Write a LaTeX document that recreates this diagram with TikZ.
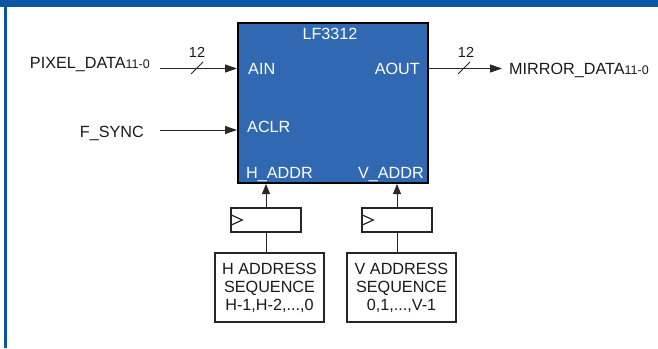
\documentclass[tikz,border=0pt]{standalone}
\usepackage{fontspec}
\setmainfont{Liberation Sans}
\usetikzlibrary{arrows.meta}
\definecolor{barblue}{RGB}{10,86,164}
\definecolor{blkblue}{RGB}{48,104,178}
\definecolor{wirec}{RGB}{40,40,40}
\begin{document}
\begin{tikzpicture}[x=1pt,y=-1pt,
  font=\fontsize{16.2}{18}\selectfont,
  txt/.style={inner sep=0pt, text=black!90},
  intxt/.style={inner sep=0pt, text=white},
  wire/.style={draw=wirec, line width=0.9pt},
  arr/.style={wire, -{Triangle[length=12pt,width=8pt]}},
  varr/.style={wire, -{Triangle[length=10pt,width=8pt]}},
  regbox/.style={draw=black!85, line width=1.4pt, minimum width=70pt, minimum height=24pt, inner sep=0pt},
  seqbox/.style={draw=black!85, line width=1.4pt, minimum width=109pt, minimum height=69pt, inner sep=0pt, align=center, text=black!90},
  bus/.style={draw=wirec, line width=0.8pt},
  small/.style={font=\fontsize{14.5}{16}\selectfont}
]
\useasboundingbox (0,0) rectangle (658,348);
\fill[barblue] (0,0) rectangle (658,7);
\fill[barblue] (3.5,0) rectangle (6.5,348);

% main block
\node[draw=black, line width=2pt, fill=blkblue, minimum width=190pt, minimum height=160pt, anchor=north west, inner sep=0pt] (blk) at (237,22) {};
\node[intxt, anchor=base] (lf) at (330,39) {LF3312};
\node[intxt, anchor=base west] (ain) at (248,74) {AIN};
\node[intxt, anchor=base west] (aclr) at (247,132) {ACLR};
\node[intxt, anchor=base west] (haddr) at (246,178) {H\_ADDR};
\node[intxt, anchor=base east] (aout) at (420,74) {AOUT};
\node[intxt, anchor=base east] (vaddr) at (424,178) {V\_ADDR};

% inputs
\node[txt, anchor=base east] (pix) at (150,68) {PIXEL\_DATA{\fontsize{12.5}{14}\selectfont 11-0}};
\node[txt, anchor=base east] (fs) at (144,137) {F\_SYNC};
\coordinate (pixs) at (160,68.5);
\coordinate (fss) at (160,130);
\draw[arr] (pixs) -- (pixs -| blk.west);
\draw[arr] (fss) -- (fss -| blk.west);
\node[txt, small, anchor=base] (n1) at (197,57) {12};
\draw[bus] (191,74) -- (203,62);

% output
\node[txt, anchor=base west] (mir) at (509,74) {MIRROR\_DATA{\fontsize{12.5}{14}\selectfont 11-0}};
\coordinate (outs) at (blk.east |- pixs);
\draw[arr] (outs) -- (502,68.5);
\node[txt, small, anchor=base] (n2) at (466,57) {12};
\draw[bus] (458,74) -- (470,62);

% registers
\node[regbox] (hreg) at (266,220) {};
\node[regbox] (vreg) at (397,220) {};
\foreach \r in {hreg,vreg}{
  \draw[draw=black!85, line width=1.2pt] ([yshift=-5.5pt]\r.west) -- ([xshift=12pt]\r.west) -- ([yshift=5.5pt]\r.west);
}
\draw[varr] (hreg.north) -- (hreg.north |- blk.south);
\draw[varr] (vreg.north) -- (vreg.north |- blk.south);

% sequence boxes
\node[seqbox] (hseq) at (269.5,287.5) {H ADDRESS\\SEQUENCE\\H-1,H-2,...,0};
\node[seqbox] (vseq) at (401.5,287.5) {V ADDRESS\\SEQUENCE\\0,1,...,V-1};
\draw[wire] (hreg.south) -- (hreg.south |- hseq.north);
\draw[wire] (vreg.south) -- (vreg.south |- vseq.north);
\end{tikzpicture}
\end{document}
